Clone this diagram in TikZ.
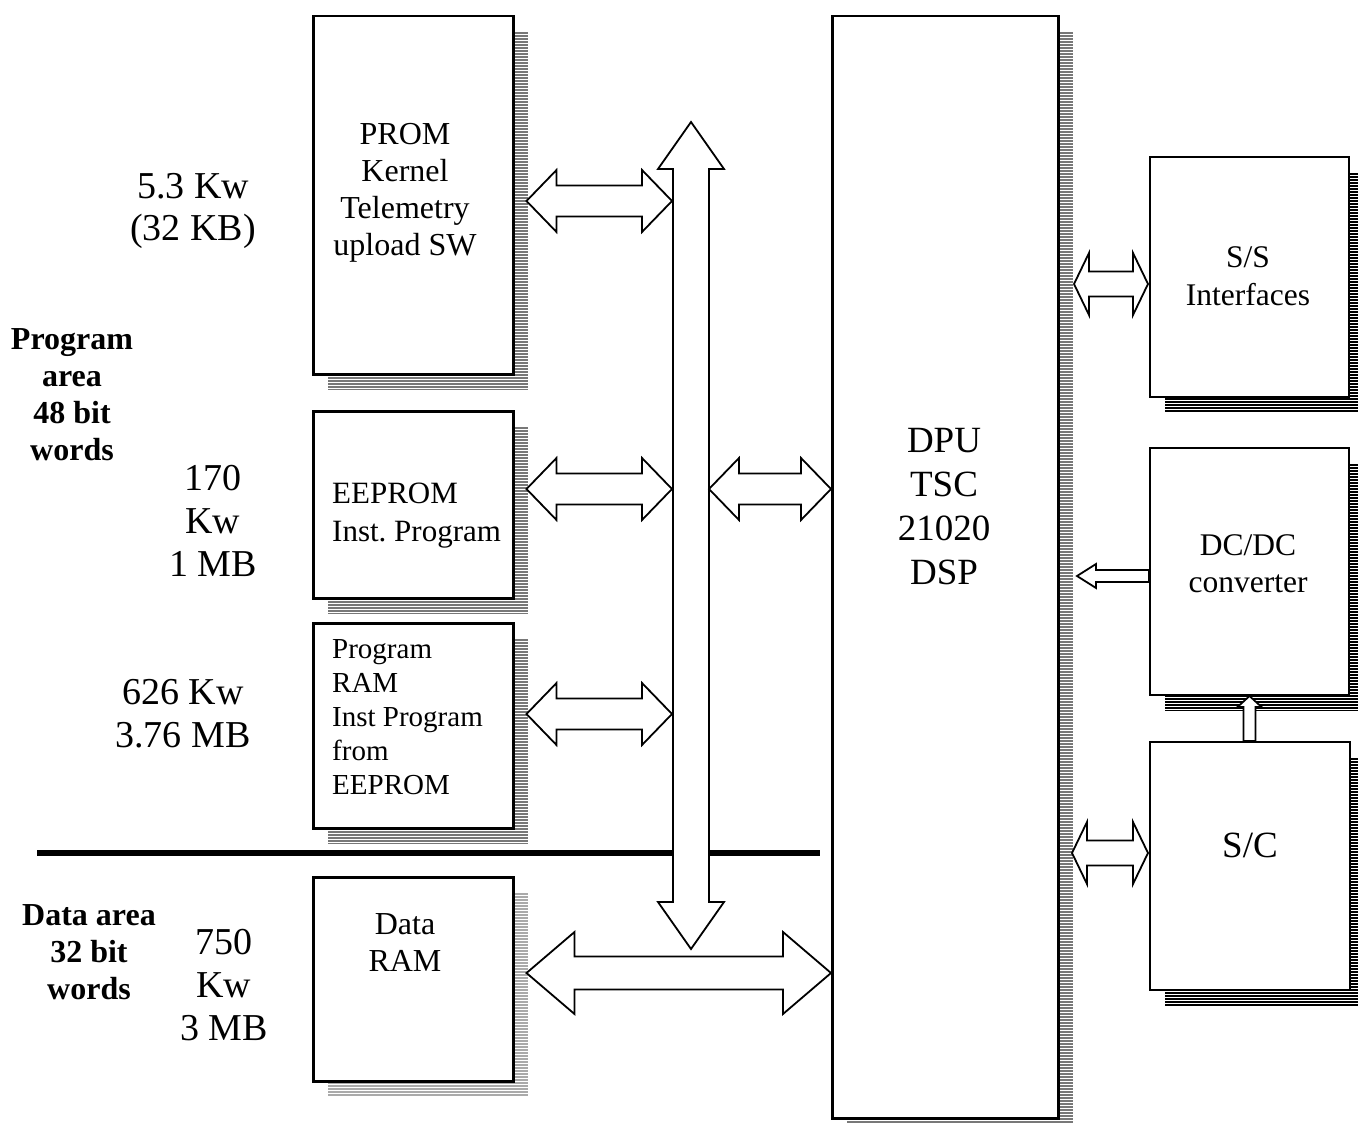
\documentclass[tikz,border=0pt]{standalone}
\usepackage{fontspec}
\setmainfont{Liberation Serif}
\usetikzlibrary{calc}
\definecolor{shgray}{HTML}{787878}
\definecolor{shlight}{HTML}{AAAAAA}
\tikzset{
  box/.style={draw=black, line width=2.5pt, fill=white, inner sep=0pt},
  rbox/.style={draw=black, line width=2pt, fill=white, inner sep=0pt},
  barrow/.style={draw=black, line width=1.8pt, fill=white, line join=miter},
  biglbl/.style={align=center, inner sep=0pt, font=\fontsize{38}{43}\selectfont},
  boldlbl/.style={align=center, inner sep=0pt, font=\fontsize{32}{37}\selectfont\bfseries},
  boxtxt/.style={align=center, inner sep=0pt, font=\fontsize{32}{37}\selectfont},
  boxtxtl/.style={align=left, inner sep=0pt, anchor=west, font=\fontsize{31}{38}\selectfont},
}
% hatched shadow then box node: name, x1, y1, x2, y2, style, shadow colour
\newcommand\mkbox[7]{%
  \pgfmathtruncatemacro\sya{#3+19}%
  \pgfmathtruncatemacro\syb{#3+22}%
  \pgfmathtruncatemacro\syc{#5+16}%
  \pgfmathtruncatemacro\sxa{#2+16}%
  \pgfmathtruncatemacro\sxb{#4+16}%
  \fill[#7] (\sxa,#3+17) rectangle (\sxb,#5+17);
  \foreach \yy in {\sya,\syb,...,\syc}{\draw[white, line width=0.75pt] (\sxa,\yy) -- (\sxb,\yy);}
  \pgfmathsetmacro\bw{#4-#2}%
  \pgfmathsetmacro\bh{#5-#3}%
  \node[#6, minimum width=\bw pt, minimum height=\bh pt, anchor=north west] (#1) at (#2,#3) {};
}
% horizontal double block arrow
\newcommand\hdbl[5]{%
  \draw[barrow] let \p1=(#1), \p2=(#2) in
   (\x1,\y1) -- (\x1+#3pt,\y1+#4pt) -- (\x1+#3pt,\y1+#5pt) -- (\x2-#3pt,\y1+#5pt)
   -- (\x2-#3pt,\y1+#4pt) -- (\x2,\y1) -- (\x2-#3pt,\y1-#4pt) -- (\x2-#3pt,\y1-#5pt)
   -- (\x1+#3pt,\y1-#5pt) -- (\x1+#3pt,\y1-#4pt) -- cycle;}
% vertical double block arrow (#1 top, #2 bottom)
\newcommand\vdbl[5]{%
  \draw[barrow] let \p1=(#1), \p2=(#2) in
   (\x1,\y1) -- (\x1+#4pt,\y1-#3pt) -- (\x1+#5pt,\y1-#3pt) -- (\x1+#5pt,\y2+#3pt)
   -- (\x1+#4pt,\y2+#3pt) -- (\x1,\y2) -- (\x1-#4pt,\y2+#3pt) -- (\x1-#5pt,\y2+#3pt)
   -- (\x1-#5pt,\y1-#3pt) -- (\x1-#4pt,\y1-#3pt) -- cycle;}
\begin{document}
\begin{tikzpicture}[x=1pt,y=-1pt]
\useasboundingbox (0,0) rectangle (1358,1124);
\fill[white] (0,0) rectangle (1358,1124);

% boxes with shadows
\mkbox{prom}{312}{15}{512}{373}{box}{shgray}
\mkbox{eeprom}{312}{410}{512}{597}{box}{shgray}
\mkbox{pram}{312}{622}{512}{827}{box}{shgray}
\mkbox{dram}{312}{876}{512}{1080}{box}{shlight}
\mkbox{dpu}{831}{15}{1057}{1117}{box}{shgray}
\mkbox{ss}{1149}{156}{1348}{396}{rbox}{black}
\mkbox{dcdc}{1149}{447}{1348}{694}{rbox}{black}
\mkbox{sc}{1149}{741}{1349}{989}{rbox}{black}

% separator line
\coordinate (sepl) at (37,853);
\coordinate (sepr) at (820,853);
\draw[line width=6pt] (sepl) -- (sepr);

% texts in boxes
\node[boxtxt] (promtxt) at (405,193) {PROM\\Kernel\\Telemetry\\upload SW};
\node[boxtxtl] (eeptxt) at (332,516) {EEPROM\\Inst.~Program};
\node[boxtxtl, font=\fontsize{29}{34}\selectfont] (pramtxt) at (332,717) {Program\\RAM\\Inst Program\\from\\EEPROM};
\node[boxtxt] (dramtxt) at (405,943) {Data\\RAM};
\node[biglbl, font=\fontsize{37}{44}\selectfont] (dputxt) at (944,507) {DPU\\TSC\\21020\\DSP};
\node[boxtxt, font=\fontsize{31.5}{38}\selectfont] (sstxt) at (1248,276) {S/S\\Interfaces};
\node[boxtxt, font=\fontsize{31.5}{37}\selectfont] (dcdctxt) at (1248,564) {DC/DC\\converter};
\node[biglbl, font=\fontsize{37}{44}\selectfont] (sctxt) at (1250,845) {S/C};

% side labels
\node[biglbl, font=\fontsize{38}{42}\selectfont] (l53) at (193,211) {5.3 Kw\\(32 KB)};
\node[biglbl] (l170) at (213,521) {170\\Kw\\1 MB};
\node[biglbl] (l626) at (183,714) {626 Kw\\3.76 MB};
\node[biglbl] (l750) at (224,985) {750\\Kw\\3 MB};
\node[boldlbl] (lprog) at (72,395) {Program\\area\\48 bit\\words};
\node[boldlbl] (ldata) at (89,952) {Data area\\32 bit\\words};

% bus
\coordinate (bustop) at (691,122);
\coordinate (busbot) at (691,949);
\vdbl{bustop}{busbot}{47}{33}{18}

% arrows to bus
\coordinate (a1) at ($(prom.east |- 0,201)+(12,0)$);
\coordinate (b1) at (672,201);
\hdbl{a1}{b1}{30}{31}{15.5}
\coordinate (a2) at ($(eeprom.east |- 0,489)+(12,0)$);
\coordinate (b2) at (672,489);
\hdbl{a2}{b2}{30}{31}{15.5}
\coordinate (a3) at ($(pram.east |- 0,714)+(12,0)$);
\coordinate (b3) at (672,714);
\hdbl{a3}{b3}{30}{31}{15.5}
\coordinate (a4) at (709,489);
\coordinate (b4) at (dpu.west |- 0,489);
\hdbl{a4}{b4}{30}{31}{15.5}
\coordinate (a5) at ($(dram.east |- 0,973)+(12,0)$);
\coordinate (b5) at (dpu.west |- 0,973);
\hdbl{a5}{b5}{48}{41}{16.5}
\coordinate (a6) at (1074,284);
\coordinate (b6) at ($(ss.west |- 0,284)+(-1,0)$);
\hdbl{a6}{b6}{15}{31}{12.5}
\coordinate (a7) at (1072,853);
\coordinate (b7) at ($(sc.west |- 0,853)+(-1,0)$);
\hdbl{a7}{b7}{15}{31}{12.5}

% DC/DC -> DPU single arrow
\coordinate (dtip) at (1077,576);
\draw[barrow] let \p1=(dtip), \p2=(dcdc.west) in
  (\x1,\y1) -- (\x1+19pt,\y1+12pt) -- (\x1+19pt,\y1+6pt) -- (\x2,\y1+6pt)
  -- (\x2,\y1-6pt) -- (\x1+19pt,\y1-6pt) -- (\x1+19pt,\y1-12pt) -- cycle;
% S/C -> DC/DC single arrow
\draw[barrow] let \p1=(dcdc.south), \p2=(sc.north) in
  (\x1,\y1) -- (\x1+12pt,\y1-11pt) -- (\x1+6pt,\y1-11pt) -- (\x1+6pt,\y2)
  -- (\x1-6pt,\y2) -- (\x1-6pt,\y1-11pt) -- (\x1-12pt,\y1-11pt) -- cycle;
\end{tikzpicture}
\end{document}
